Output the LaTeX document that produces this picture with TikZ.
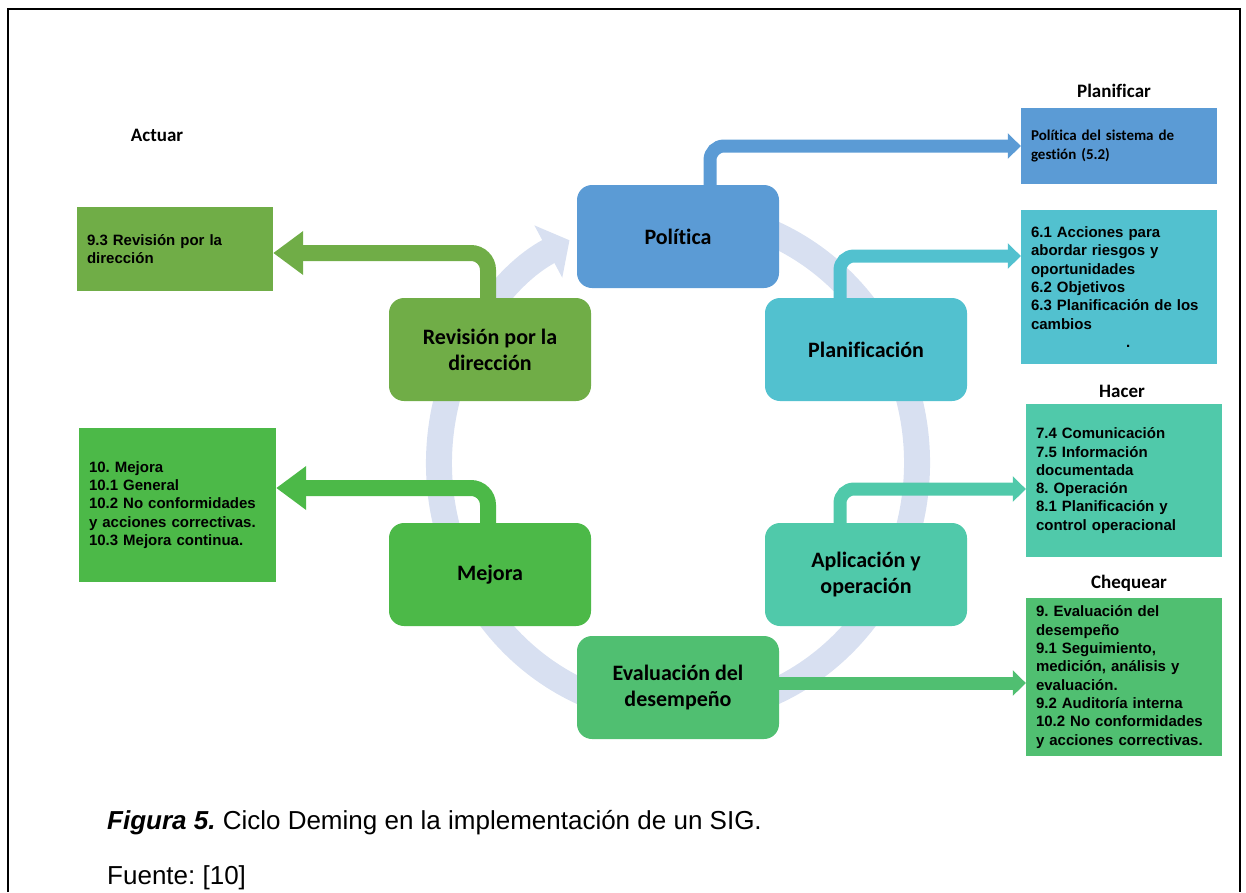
\documentclass[tikz,border=0pt]{standalone}
\usepackage{fontspec}
\setmainfont{Liberation Sans}
\newfontfamily\calfont[Ligatures={NoCommon,NoContextual}]{Carlito}
\usetikzlibrary{arrows.meta}

\definecolor{polblue}{RGB}{91,155,213}
\definecolor{revgreen}{RGB}{112,173,71}
\definecolor{plancyan}{RGB}{82,193,207}
\definecolor{mejgreen}{RGB}{76,185,72}
\definecolor{aplteal}{RGB}{80,201,170}
\definecolor{evagreen}{RGB}{80,191,113}
\definecolor{ringblue}{RGB}{216,224,241}

\pgfdeclarelayer{bg}
\pgfsetlayers{bg,main}

\frenchspacing

\begin{document}
\begin{tikzpicture}[x=1pt,y=-1pt,
  cycbox/.style={rounded corners=15pt, minimum width=202pt, minimum height=103pt,
    inner sep=0pt, align=center, text=black,
    font=\calfont\bfseries\fontsize{22}{26}\selectfont},
  sidebox/.style={inner xsep=10pt, inner ysep=0pt, text width=176pt, align=left,
    text=black, font=\bfseries\fontsize{15}{18.3}\selectfont},
  header/.style={anchor=base, inner sep=0pt,
    font=\calfont\bfseries\fontsize{19}{23}\selectfont},
  rarrow/.style={line width=13pt, rounded corners=14pt,
    -{Triangle[length=13pt,width=25pt]}},
  larrow/.style={line width=16pt, rounded corners=17pt,
    -{Triangle[length=30pt,width=42pt]}},
  ringline/.style={draw=ringblue, line width=26pt,
    -{Triangle[length=24pt,width=58pt]}},
  caption/.style={anchor=base west, inner sep=0pt,
    font=\fontsize{26}{30}\selectfont}
]
\useasboundingbox (0,0) rectangle (1246,892);

% page frame
\draw[line width=2.5pt] (8,892) -- (8,9) -- (1240,9) -- (1240,892);

% cycle steps
\node[cycbox, fill=polblue]  (pol)  at (678,236.5) {Política};
\node[cycbox, fill=revgreen] (rev)  at (490,349.5) {Revisión por la\\dirección};
\node[cycbox, fill=plancyan] (plan) at (866,349.5) {Planificación};
\node[cycbox, fill=mejgreen] (mej)  at (490,574.5) {Mejora};
\node[cycbox, fill=aplteal]  (apl)  at (866,574.5) {Aplicación y\\operación};
\node[cycbox, fill=evagreen] (eva)  at (678,687.5) {Evaluación del\\desempeño};

% clause boxes
\node[sidebox, fill=polblue, minimum height=76pt,
  font=\calfont\bfseries\fontsize{15}{18.3}\selectfont] (pol52) at (1119,146)
  {Política del sistema de\\gestión (5.2)};
\node[sidebox, fill=plancyan, minimum height=154pt] (b61) at (1119,287)
  {6.1 Acciones para\\abordar riesgos y\\oportunidades\\6.2 Objetivos\\6.3 Planificación de los\\cambios\\\hspace*{95pt}.};
\node[sidebox, fill=aplteal, minimum height=153pt] (hac) at (1124,480.5)
  {7.4 Comunicación\\7.5 Información\\documentada\\8. Operación\\8.1 Planificación y\\control operacional};
\node[sidebox, fill=evagreen, minimum height=158pt] (chq) at (1124,677)
  {9. Evaluación del\\desempeño\\9.1 Seguimiento,\\medición, análisis y\\evaluación.\\9.2 Auditoría interna\\10.2 No conformidades\\y acciones correctivas.};
\node[sidebox, fill=revgreen, minimum height=84pt] (b93) at (175,249)
  {9.3 Revisión por la\\dirección};
\node[sidebox, fill=mejgreen, minimum height=154pt, text width=177pt] (b10) at (177.5,505)
  {10. Mejora\\10.1 General\\10.2 No conformidades\\y acciones correctivas.\\10.3 Mejora continua.};

% phase headings
\node[header] (hplan) at (1114,97)  {Planificar};
\node[header] (hhac)  at (1122,397) {Hacer};
\node[header] (hchq)  at (1129,588) {Chequear};
\node[header] (hact)  at (157,141)  {Actuar};

% caption
\node[caption] (cap) at (107,829)
  {\textbf{\textit{Figura 5.}} Ciclo Deming en la implementación de un SIG.};
\node[caption] (src) at (107,884) {Fuente: [10]};

\begin{pgfonlayer}{bg}
  % circular arrow behind the steps
  \coordinate (ringc) at (678,463);
  \draw[ringline] ([shift={(-80:239 and 250)}]ringc)
    arc[start angle=-80, end angle=243, x radius=239, y radius=250];

  % step -> clause connectors
  \draw[rarrow, polblue]  ([xshift=32pt]pol.center)  |- (pol52.west);
  \draw[rarrow, plancyan] ([xshift=-26pt]plan.center) |- ([yshift=31pt]b61.west);
  \draw[rarrow, aplteal]  ([xshift=-26pt]apl.center)  |- ([yshift=-8.5pt]hac.west);
  \draw[rarrow, evagreen] ([yshift=4.5pt]eva.center) -- ([yshift=4.5pt]eva.center -| chq.west);
  \draw[larrow, revgreen] ([xshift=-2pt]rev.center) |- ([yshift=-4pt]b93.east);
  \draw[larrow, mejgreen] ([xshift=-2pt]mej.center) |- ([yshift=17pt]b10.east);
\end{pgfonlayer}
\end{tikzpicture}
\end{document}
